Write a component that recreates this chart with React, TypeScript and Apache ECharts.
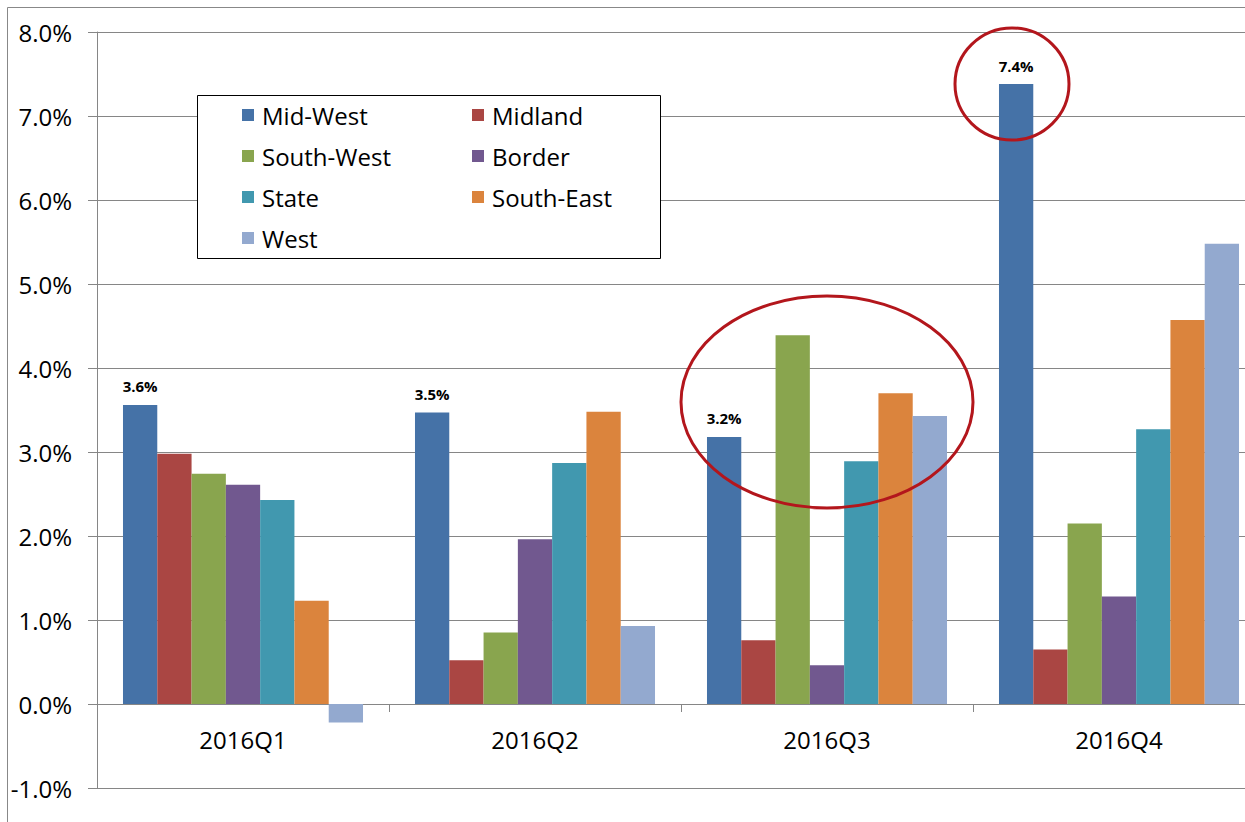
import React, { useEffect, useRef } from "react";
import * as echarts from "echarts";

const categories = ["2016Q1", "2016Q2", "2016Q3", "2016Q4"];
const seriesNames = ["Mid-West", "Midland", "South-West", "Border", "State", "South-East", "West"];
const midWest = [3.56, 3.47, 3.18, 7.38];
const midland = [2.98, 0.52, 0.76, 0.65];
const southWest = [2.74, 0.85, 4.39, 2.15];
const border = [2.61, 1.96, 0.46, 1.28];
const state = [2.43, 2.87, 2.89, 3.27];
const southEast = [1.23, 3.48, 3.7, 4.57];
const west = [-0.22, 0.93, 3.43, 5.48];
const seriesValues = [midWest, midland, southWest, border, state, southEast, west];
const colors = ["#4572A7", "#AA4643", "#89A54E", "#71588F", "#4198AF", "#DB843D", "#93A9CF"];
const legendCol1 = ["Mid-West", "South-West", "State", "West"];
const legendCol2 = ["Midland", "Border", "South-East"];

const FONT = "'Open Sans', 'Noto Sans', sans-serif";

export default function App() {
  const ref = useRef<HTMLDivElement>(null);
  useEffect(() => {
    if (!ref.current) return;
    const chart = echarts.init(ref.current, null, { renderer: "svg" });
    const legendCommon = {
      orient: "vertical" as const,
      top: 103,
      padding: 0,
      itemWidth: 12,
      itemHeight: 12,
      itemGap: 17,
      icon: "rect",
      textStyle: { fontSize: 24, fontFamily: FONT, color: "#000", lineHeight: 24, padding: [0, 0, 0, 3] },
    };
    chart.setOption({
      animation: false,
      color: colors,
      textStyle: { fontFamily: FONT },
      grid: {
        left: 97,
        right: -20,
        top: 32,
        bottom: 34,
        containLabel: false,
        outerBoundsMode: "none",
      },
      legend: [
        { ...legendCommon, left: 242, data: legendCol1 },
        { ...legendCommon, left: 472, data: legendCol2 },
      ],
      xAxis: {
        type: "category",
        data: categories,
        axisLine: { onZero: true, lineStyle: { color: "#868686", width: 1 } },
        axisTick: { show: true, length: 8, lineStyle: { color: "#868686" } },
        axisLabel: { fontSize: 24, color: "#000", margin: -61, fontFamily: FONT },
      },
      yAxis: {
        type: "value",
        min: -1,
        max: 8,
        interval: 1,
        axisLine: { show: true, lineStyle: { color: "#868686", width: 1 } },
        axisTick: { show: true, length: 9, lineStyle: { color: "#868686" } },
        axisLabel: {
          fontSize: 24,
          color: "#000",
          margin: 25,
          fontFamily: FONT,
          formatter: (v: number) => v.toFixed(1) + "%",
        },
        splitLine: { show: true, lineStyle: { color: "#868686", width: 1 } },
      },
      series: seriesNames.map((name, i) => ({
        name,
        type: "bar",
        data: seriesValues[i],
        barGap: "0%",
        barCategoryGap: "17.8%",
        itemStyle: { color: colors[i] },
        label:
          i === 0
            ? {
                show: true,
                position: "top",
                distance: 11,
                fontSize: 15,
                fontWeight: "bold",
                color: "#000",
                fontFamily: FONT,
                formatter: (p: any) => Number(p.value).toFixed(1) + "%",
              }
            : { show: false },
      })),
      graphic: [
        {
          type: "rect",
          silent: true,
          z: 0,
          shape: { x: 7.5, y: 7.5, width: 1400, height: 1000 },
          style: { fill: "none", stroke: "#888", lineWidth: 1 },
        },
        {
          type: "rect",
          silent: true,
          z: 3,
          shape: { x: 197.5, y: 95.5, width: 463, height: 163 },
          style: { fill: "#fff", stroke: "#000", lineWidth: 1 },
        },
        {
          type: "ellipse",
          silent: true,
          z: 10,
          shape: { cx: 1012, cy: 84, rx: 57, ry: 56 },
          style: { fill: "none", stroke: "#B3161C", lineWidth: 3 },
        },
        {
          type: "ellipse",
          silent: true,
          z: 10,
          shape: { cx: 827, cy: 402, rx: 146, ry: 106 },
          style: { fill: "none", stroke: "#B3161C", lineWidth: 3 },
        },
      ],
    });
    return () => chart.dispose();
  }, []);
  return (
    <div
      ref={ref}
      style={{ position: "absolute", left: 0, top: 0, width: 1245, height: 822, background: "#fff" }}
    />
  );
}
